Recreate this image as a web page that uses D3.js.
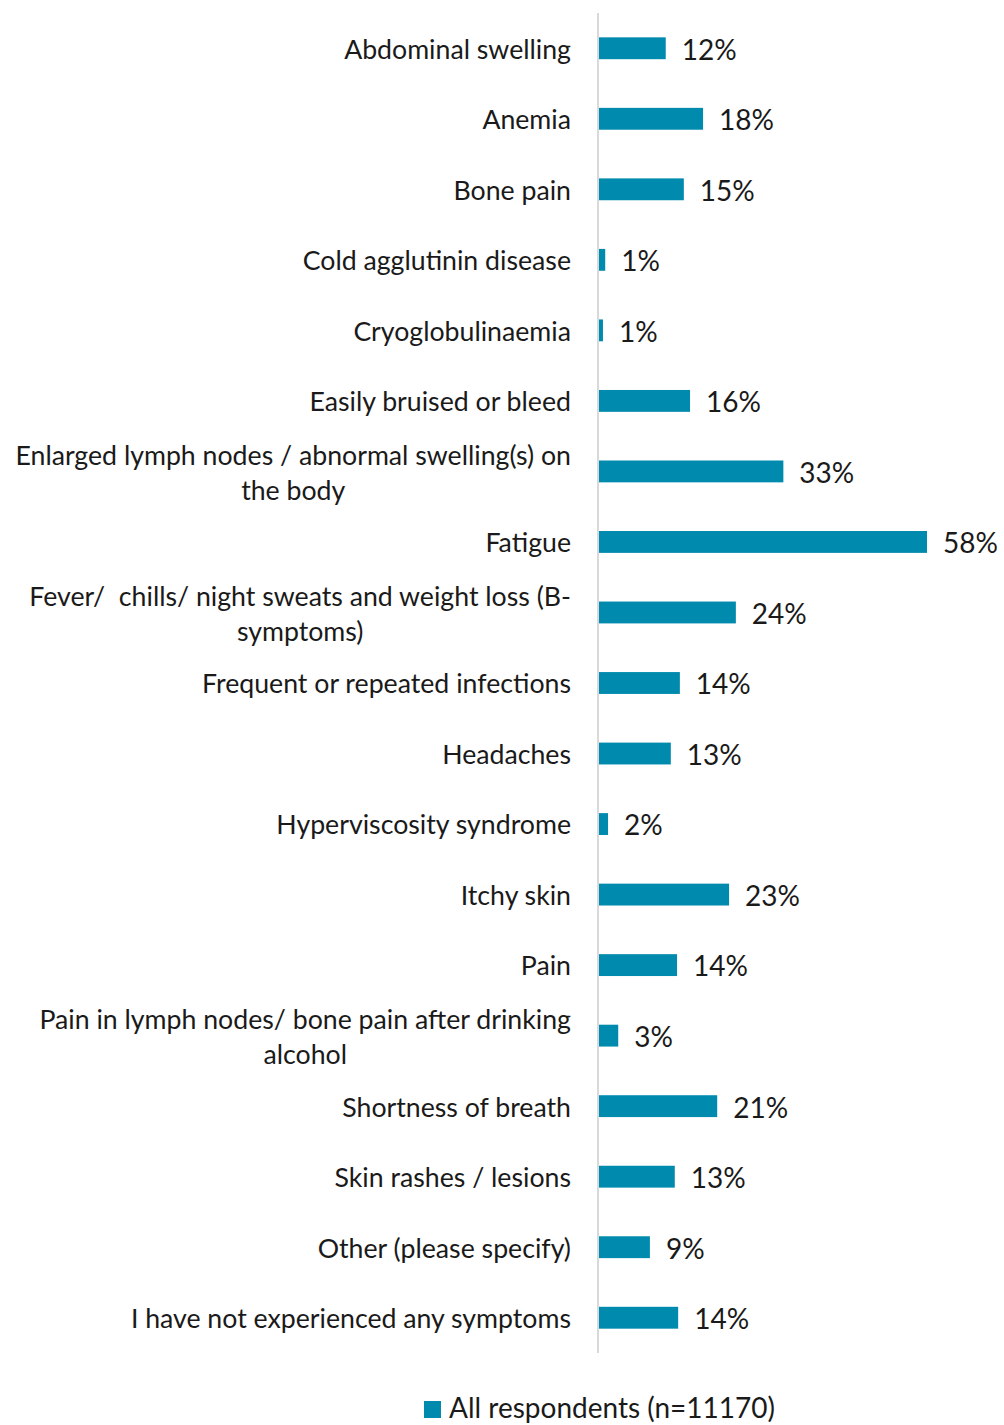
<!DOCTYPE html>
<html><head><meta charset="utf-8">
<style>html,body{margin:0;padding:0;background:#fff;} text{font-family:Lato,"Open Sans",sans-serif;fill:#1a1a1a;white-space:pre;}</style>
</head><body>
<svg id="chart" width="1004" height="1425"></svg>
<script src="https://cdn.jsdelivr.net/npm/d3@7"></script>
<script>
const categories = [
  "Abdominal swelling",
  "Anemia",
  "Bone pain",
  "Cold agglutinin disease",
  "Cryoglobulinaemia",
  "Easily bruised or bleed",
  "Enlarged lymph nodes / abnormal swelling(s) on\nthe body",
  "Fatigue",
  "Fever/  chills/ night sweats and weight loss (B-\nsymptoms)",
  "Frequent or repeated infections",
  "Headaches",
  "Hyperviscosity syndrome",
  "Itchy skin",
  "Pain",
  "Pain in lymph nodes/ bone pain after drinking\nalcohol",
  "Shortness of breath",
  "Skin rashes / lesions",
  "Other (please specify)",
  "I have not experienced any symptoms"
];
const values = [11.8, 18.4, 15.0, 1.1, 0.7, 16.1, 32.6, 58.0, 24.2, 14.3, 12.7, 1.6, 23.0, 13.8, 3.4, 20.9, 13.4, 9.0, 14.0];
const seriesName = "All respondents (n=11170)";

const color = "#008AAD";
const svg = d3.select("#chart");
const plotX0 = 599, plotTop = 13, plotBottom = 1353;

const x = d3.scaleLinear().domain([0, 58]).range([plotX0, 927]);
const y = d3.scaleBand().domain(categories).range([plotTop, plotBottom]).paddingInner(0.69).paddingOuter(0.345);

// bars
svg.append("g").selectAll("rect").data(categories).join("rect")
  .attr("x", x(0))
  .attr("y", d => y(d))
  .attr("width", (d, i) => x(values[i]) - x(0))
  .attr("height", y.bandwidth())
  .attr("fill", color);

// axis line
svg.append("line").attr("x1", 598).attr("x2", 598).attr("y1", plotTop).attr("y2", plotBottom)
  .attr("stroke", "#d9d9d9").attr("stroke-width", 2);

// category labels
const fs = 26.7, lh = 35;
const lab = svg.append("g");
categories.forEach((c) => {
  const lines = c.split("\n");
  const cy = y(c) + y.bandwidth() / 2 + 1;
  const right = 571;
  if (lines.length === 1) {
    lab.append("text").attr("x", right).attr("y", cy).attr("dy", "0.35em")
      .attr("text-anchor", "end").style("font-size", fs + "px").text(c);
  } else {
    const tmp = lab.append("text").style("font-size", fs + "px").text(lines[0]);
    const w = tmp.node().getComputedTextLength();
    tmp.remove();
    const cx = right - w / 2;
    lines.forEach((l, j) => {
      lab.append("text").attr("x", cx).attr("y", cy + 1 + (j - (lines.length - 1) / 2) * lh)
        .attr("dy", "0.35em").attr("text-anchor", "middle").style("font-size", fs + "px").text(l);
    });
  }
});

// value labels
svg.append("g").selectAll("text").data(categories).join("text")
  .attr("x", (d, i) => x(values[i]) + 16)
  .attr("y", d => y(d) + y.bandwidth() / 2 + 1)
  .attr("dy", "0.37em")
  .style("font-size", "28px")
  .text((d, i) => Math.round(values[i]) + "%");

// legend
const lg = svg.append("g");
lg.append("rect").attr("x", 424).attr("y", 1401).attr("width", 17).attr("height", 17).attr("fill", color);
lg.append("text").attr("x", 449).attr("y", 1418).style("font-size", "28px").text(seriesName);
</script>
</body></html>
